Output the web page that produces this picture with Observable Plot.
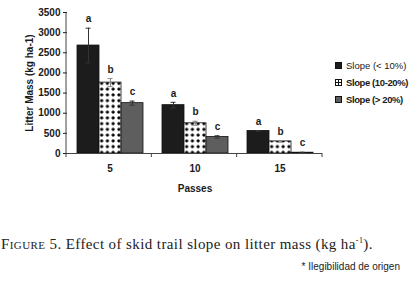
<!DOCTYPE html>
<html><head><meta charset="utf-8">
<script src="https://cdn.jsdelivr.net/npm/d3@7"></script>
<script src="https://cdn.jsdelivr.net/npm/@observablehq/plot@0.6"></script>
<style>
body{margin:0;background:#fff;}
#wrap{position:relative;width:413px;height:284px;overflow:hidden;background:#fff;}
#legend{position:absolute;left:335px;top:57px;font-family:"Liberation Sans",Arial,sans-serif;color:#1a1a1a;}
.row{display:flex;align-items:center;height:17px;font-size:9.5px;white-space:nowrap;}
.row svg{margin-right:4px;}
#caption{position:absolute;left:1px;top:236px;font-family:"Liberation Serif","Times New Roman",serif;font-size:15px;letter-spacing:0.4px;color:#222;white-space:nowrap;}
#note{position:absolute;right:13px;top:261px;font-family:"Liberation Sans",Arial,sans-serif;font-size:10px;color:#222;white-space:nowrap;}
</style></head><body><div id="wrap"></div>
<script>
const passes = ["5", "10", "15"];
const slopes = ["Slope (< 10%)", "Slope (10-20%)", "Slope (> 20%)"];
const lowSlope = [2680, 1200, 560];
const midSlope = [1760, 750, 300];
const highSlope = [1250, 410, 20];
const lowErr = [430, 70, 10];
const midErr = [100, 50, 20];
const highErr = [50, 30, 10];
const letters = ["a", "b", "c"];
const yTicks = [0, 500, 1000, 1500, 2000, 2500, 3000, 3500];

const series = [lowSlope, midSlope, highSlope];
const errs = [lowErr, midErr, highErr];
const data = [];
passes.forEach((p, i) => slopes.forEach((s, j) => {
  data.push({passes: p, slope: s, value: series[j][i], err: errs[j][i], letter: letters[j],
    lo: series[j][i] - errs[j][i], hi: series[j][i] + errs[j][i]});
}));

const plot = Plot.plot({
  width: 413, height: 200,
  marginLeft: 66, marginRight: 91, marginTop: 12, marginBottom: 47,
  style: {fontFamily: "Liberation Sans, Arial, sans-serif", fontSize: "10px", fontWeight: "bold", color: "#1a1a1a", background: "white", overflow: "visible"},
  fx: {domain: passes, padding: 0},
  x: {domain: slopes, paddingInner: 0, paddingOuter: 0.355, axis: null},
  y: {domain: [0, 3500]},
  color: {domain: slopes, range: ["#1c1c1c", "url(#dots)", "#5e5e5e"]},
  marks: [
    Plot.axisFx({anchor: "bottom", tickSize: 0, tickPadding: 11, label: "Passes", labelAnchor: "center", labelOffset: 38, labelArrow: "none"}),
    Plot.axisY({ticks: yTicks, tickFormat: d => String(d), tickSize: 4, tickPadding: 3, label: "Litter Mass (kg ha-1)", labelAnchor: "center", labelOffset: 41.5, labelArrow: "none", fontSize: 10}),
    Plot.barY(data, {fx: "passes", x: "slope", y: "value", fill: "slope", stroke: "#111", strokeWidth: 0.8}),
    Plot.ruleX(data, {fx: "passes", x: "slope", y1: "lo", y2: "hi", stroke: (d, i) => i % 3 === 1 ? "#888" : "#333", strokeWidth: 1}),
    Plot.tickY(data, {fx: "passes", x: "slope", y: "hi", stroke: (d, i) => i % 3 === 1 ? "#888" : "#333", insetLeft: 8.5, insetRight: 8.5}),
    Plot.tickY(data, {fx: "passes", x: "slope", y: "lo", stroke: (d, i) => i % 3 === 1 ? "#888" : "#333", insetLeft: 8.5, insetRight: 8.5}),
    Plot.text(data, {fx: "passes", x: "slope", y: "hi", text: "letter", dy: -9, fontWeight: "bold", fontSize: 10, fill: "#1a1a1a"}),
    Plot.ruleY([0], {stroke: "#444"})
  ]
});

const svg = d3.select(plot);
const defs = svg.insert("defs", ":first-child");
const pat = defs.append("pattern").attr("id", "dots").attr("patternUnits", "userSpaceOnUse")
  .attr("width", 5.75).attr("height", 5.75);
pat.append("rect").attr("width", 5.75).attr("height", 5.75).attr("fill", "#fff");
pat.append("path").attr("d", "M2.9,0.9L4.9,2.9L2.9,4.9L0.9,2.9Z").attr("fill", "#000");

// y axis line and category separator ticks, from the plot's scales
const ys = plot.scale("y"), fxs = plot.scale("fx");
const [x0, x1] = fxs.range;
const y0 = ys.range[0], y1 = ys.range[1];
svg.append("line").attr("x1", x0).attr("x2", x0).attr("y1", y0).attr("y2", y1).attr("stroke", "#444");
const step = (x1 - x0) / passes.length;
d3.range(passes.length + 1).forEach(k => {
  const xx = x0 + k * step;
  svg.append("line").attr("x1", xx).attr("x2", xx).attr("y1", y0).attr("y2", y0 + 4).attr("stroke", "#444");
});

const wrap = document.getElementById("wrap");
wrap.appendChild(plot);

// legend
const legend = document.createElement("div");
legend.id = "legend";
const swatches = [
  '<svg width="7" height="7"><rect x="0.5" y="0.5" width="6" height="6" fill="#1c1c1c" stroke="#111"/></svg>',
  '<svg width="7" height="7"><rect x="0.5" y="0.5" width="6" height="6" fill="#fff" stroke="#111"/><path d="M3.5,1V6M1,3.5H6" stroke="#111"/></svg>',
  '<svg width="7" height="7"><rect x="0.5" y="0.5" width="6" height="6" fill="#5e5e5e" stroke="#111"/></svg>'
];
slopes.forEach((s, j) => {
  const r = document.createElement("div");
  r.className = "row";
  r.style.fontWeight = j === 0 ? "normal" : "bold";
  if (j > 0) r.style.letterSpacing = "-0.4px";
  r.innerHTML = swatches[j] + "<span></span>";
  r.querySelector("span").textContent = s;
  legend.appendChild(r);
});
wrap.appendChild(legend);

const cap = document.createElement("div");
cap.id = "caption";
cap.innerHTML = '<span style="font-variant:small-caps">Figure</span> 5. Effect of skid trail slope on litter mass (kg ha<sup style="font-size:8px">-1</sup>).';
wrap.appendChild(cap);
const note = document.createElement("div");
note.id = "note";
note.textContent = "* Ilegibilidad de origen";
wrap.appendChild(note);
</script></body></html>
